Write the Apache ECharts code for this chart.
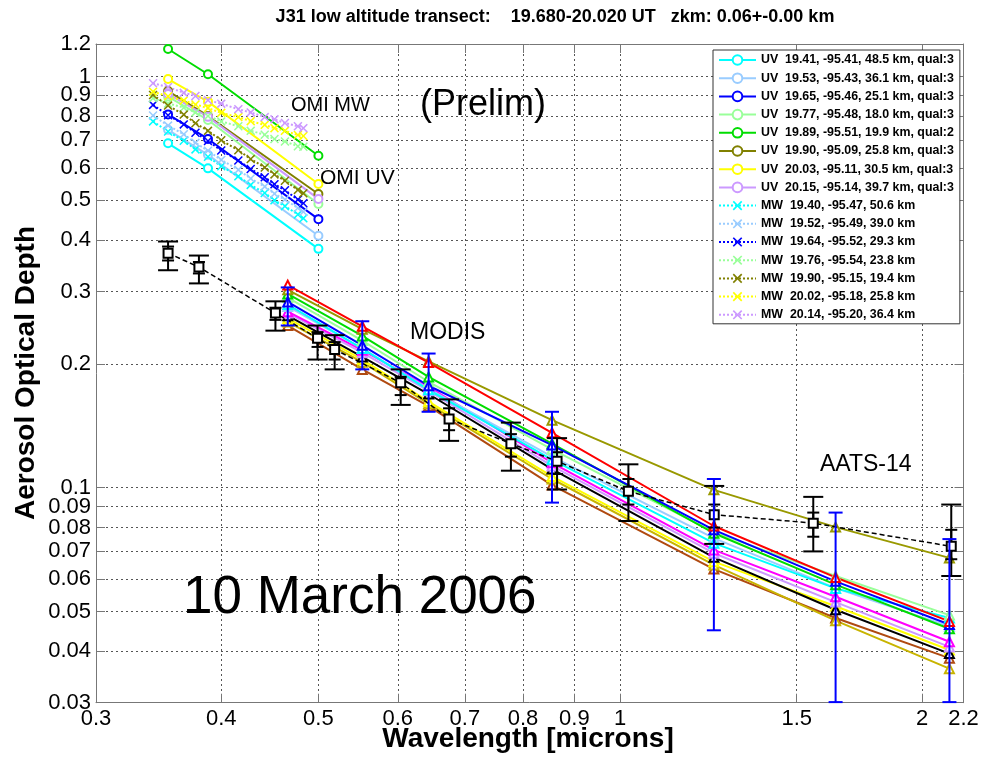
<!DOCTYPE html>
<html><head><meta charset="utf-8">
<script src="https://cdn.jsdelivr.net/npm/echarts@6/dist/echarts.min.js"></script>
<style>html,body{margin:0;padding:0;background:#fff}#c{width:981px;height:758px}</style>
</head><body><div id="c"></div>
<script>
const FONT = "'Liberation Sans', Arial, Helvetica, sans-serif";

// ---------- axis ticks ----------
const xTicks = [0.3, 0.4, 0.5, 0.6, 0.7, 0.8, 0.9, 1, 1.5, 2, 2.2];
const yTicks = [0.03, 0.04, 0.05, 0.06, 0.07, 0.08, 0.09, 0.1, 0.2, 0.3, 0.4, 0.5, 0.6, 0.7, 0.8, 0.9, 1, 1.2];

// ---------- OMI UV (solid, circles) ----------
const uvWavelengths = [0.354, 0.388, 0.5];
const uvNames = [
  'UV  19.41, -95.41, 48.5 km, qual:3',
  'UV  19.53, -95.43, 36.1 km, qual:3',
  'UV  19.65, -95.46, 25.1 km, qual:3',
  'UV  19.77, -95.48, 18.0 km, qual:3',
  'UV  19.89, -95.51, 19.9 km, qual:2',
  'UV  19.90, -95.09, 25.8 km, qual:3',
  'UV  20.03, -95.11, 30.5 km, qual:3',
  'UV  20.15, -95.14, 39.7 km, qual:3'
];
const uv1941 = [0.688, 0.598, 0.381];
const uv1953 = [0.742, 0.645, 0.410];
const uv1965 = [0.809, 0.705, 0.450];
const uv1977 = [0.894, 0.784, 0.490];
const uv1989 = [1.167, 1.013, 0.642];
const uv1990 = [0.922, 0.802, 0.518];
const uv2003 = [0.986, 0.869, 0.548];
const uv2015 = [0.907, 0.798, 0.504];

// ---------- OMI MW (dotted, x) ----------
const mwWavelengths = [0.342, 0.354, 0.367, 0.377, 0.388, 0.400, 0.416, 0.428, 0.442, 0.452, 0.463, 0.477, 0.483];
const mwNames = [
  'MW  19.40, -95.47, 50.6 km',
  'MW  19.52, -95.49, 39.0 km',
  'MW  19.64, -95.52, 29.3 km',
  'MW  19.76, -95.54, 23.8 km',
  'MW  19.90, -95.15, 19.4 km',
  'MW  20.02, -95.18, 25.8 km',
  'MW  20.14, -95.20, 36.4 km'
];
const mw1940 = [0.778, 0.735, 0.698, 0.665, 0.638, 0.605, 0.572, 0.545, 0.521, 0.500, 0.484, 0.462, 0.452];
const mw1952 = [0.804, 0.760, 0.724, 0.690, 0.660, 0.627, 0.593, 0.565, 0.540, 0.519, 0.502, 0.479, 0.469];
const mw1964 = [0.853, 0.805, 0.765, 0.730, 0.697, 0.661, 0.625, 0.596, 0.569, 0.547, 0.529, 0.502, 0.492];
const mw1976 = [0.886, 0.860, 0.840, 0.818, 0.802, 0.778, 0.757, 0.738, 0.722, 0.705, 0.695, 0.677, 0.675];
const mw1990 = [0.902, 0.850, 0.808, 0.770, 0.738, 0.700, 0.662, 0.630, 0.601, 0.578, 0.558, 0.530, 0.520];
const mw2002 = [0.919, 0.895, 0.875, 0.855, 0.838, 0.816, 0.797, 0.779, 0.763, 0.749, 0.738, 0.721, 0.717];
const mw2014 = [0.963, 0.943, 0.913, 0.897, 0.876, 0.859, 0.833, 0.818, 0.797, 0.787, 0.771, 0.757, 0.749];

// ---------- MODIS (solid, triangles) ----------
const modisWavelengths = [0.466, 0.553, 0.644, 0.855, 1.24, 1.64, 2.13];
const modisRed        = [0.311, 0.247, 0.2015, 0.136, 0.0807, 0.0605, 0.0473];
const modisOlive      = [0.303, 0.243, 0.203, 0.146, 0.0988, 0.0802, 0.0675];
const modisGreen      = [0.296, 0.234, 0.186, 0.128, 0.0775, 0.0581, 0.0454];
const modisLightGreen = [0.290, 0.228, 0.181, 0.124, 0.0780, 0.0610, 0.0490];
const modisBlue       = [0.283, 0.222, 0.177, 0.127, 0.0790, 0.0592, 0.0465];
const modisCyan       = [0.279, 0.218, 0.173, 0.117, 0.0733, 0.0569, 0.0482];
const modisLightBlue  = [0.276, 0.218, 0.174, 0.119, 0.0754, 0.0570, 0.0460];
const modisMagenta    = [0.268, 0.216, 0.176, 0.115, 0.0706, 0.0543, 0.0422];
const modisLightPurple= [0.266, 0.213, 0.172, 0.113, 0.0693, 0.0527, 0.0410];
const modisBlack      = [0.262, 0.208, 0.169, 0.111, 0.0677, 0.0505, 0.0395];
const modisYellow     = [0.258, 0.205, 0.162, 0.1065, 0.0661, 0.0515, 0.0403];
const modisDarkYellow = [0.253, 0.202, 0.160, 0.105, 0.0649, 0.0475, 0.0363];
const modisBrown      = [0.248, 0.194, 0.158, 0.1015, 0.0634, 0.0482, 0.0385];
const modisErrLo = [0.248, 0.194, 0.153, 0.092, 0.045, 0.0301, 0.0301];
const modisErrHi = [0.307, 0.254, 0.212, 0.153, 0.105, 0.087, 0.075];

// ---------- AATS-14 (dashed, squares, two error bars) ----------
const aatsWavelengths = [0.354, 0.380, 0.453, 0.499, 0.519, 0.604, 0.675, 0.778, 0.865, 1.019, 1.241, 1.558, 2.139];
const aatsAod     = [0.372, 0.344, 0.266, 0.231, 0.217, 0.180, 0.147, 0.128, 0.116, 0.098, 0.086, 0.082, 0.072];
const aatsOuterHi = [0.397, 0.367, 0.284, 0.248, 0.235, 0.194, 0.164, 0.144, 0.132, 0.114, 0.101, 0.095, 0.091];
const aatsOuterLo = [0.338, 0.314, 0.241, 0.205, 0.194, 0.159, 0.130, 0.110, 0.099, 0.083, 0.073, 0.070, 0.061];
const aatsInnerHi = [0.386, 0.354, 0.274, 0.239, 0.226, 0.186, 0.156, 0.135, 0.122, 0.105, 0.091, 0.087, 0.079];
const aatsInnerLo = [0.357, 0.332, 0.256, 0.220, 0.205, 0.168, 0.138, 0.119, 0.108, 0.091, 0.080, 0.076, 0.067];

// ---------- build ----------
const omiColors = ['#00ffff', '#99ccff', '#0000ff', '#99ff99', '#00dd00', '#808000', '#ffff00', '#cc99ff'];
const mwColors  = ['#00ffff', '#99ccff', '#0000ff', '#99ff99', '#808000', '#ffff00', '#cc99ff'];
const uvSets = [uv1941, uv1953, uv1965, uv1977, uv1989, uv1990, uv2003, uv2015];
const mwSets = [mw1940, mw1952, mw1964, mw1976, mw1990, mw2002, mw2014];
const modisSets = [
  [modisBrown, '#b04a10'], [modisDarkYellow, '#c8b400'], [modisYellow, '#ffff00'], [modisBlack, '#000000'],
  [modisLightPurple, '#cc99ff'], [modisMagenta, '#ff00ff'], [modisLightBlue, '#99ccff'], [modisCyan, '#00ffff'],
  [modisLightGreen, '#99ff99'], [modisGreen, '#00dd00'], [modisBlue, '#0000ff'], [modisOlive, '#999900'], [modisRed, '#ff0000']
];
const X_SYMBOL = 'path://M0,1.2L1.2,0L5,3.8L8.8,0L10,1.2L6.2,5L10,8.8L8.8,10L5,6.2L1.2,10L0,8.8L3.8,5Z';

function pairs(xs, ys) { return xs.map((x, i) => [x, ys[i]]); }
function triples(xs, lo, hi) { return xs.map((x, i) => [x, lo[i], hi[i]]); }
function errRender(capW, color, lw) {
  return function (params, api) {
    const x = api.value(0), lo = api.value(1), hi = api.value(2);
    const p1 = api.coord([x, hi]), p2 = api.coord([x, lo]);
    const h = capW / 2;
    const st = { stroke: color, lineWidth: lw };
    return { type: 'group', children: [
      { type: 'line', shape: { x1: p1[0], y1: p1[1], x2: p2[0], y2: p2[1] }, style: st },
      { type: 'line', shape: { x1: p1[0] - h, y1: p1[1], x2: p1[0] + h, y2: p1[1] }, style: st },
      { type: 'line', shape: { x1: p2[0] - h, y1: p2[1], x2: p2[0] + h, y2: p2[1] }, style: st }
    ] };
  };
}

const series = [];
modisSets.forEach(([vals, c], i) => {
  series.push({ name: 'modis' + i, type: 'line', data: pairs(modisWavelengths, vals),
    symbol: 'emptyTriangle', symbolSize: 9, showSymbol: true,
    lineStyle: { color: c, width: 2 }, itemStyle: { color: c, borderWidth: 1.5 }, z: 2 });
});
series.push({ name: 'aatsLine', type: 'line', data: pairs(aatsWavelengths, aatsAod),
  symbol: 'emptyRect', symbolSize: 9, lineStyle: { color: '#000', width: 1.5, type: [5, 3] },
  itemStyle: { color: '#000', borderWidth: 1.5 }, z: 4 });
series.push({ name: 'aatsOuter', type: 'custom', renderItem: errRender(20, '#000', 2), encode: { x: 0, y: [1, 2] },
  data: triples(aatsWavelengths, aatsOuterLo, aatsOuterHi), z: 4 });
series.push({ name: 'aatsInner', type: 'custom', renderItem: errRender(12, '#000', 2), encode: { x: 0, y: [1, 2] },
  data: triples(aatsWavelengths, aatsInnerLo, aatsInnerHi), z: 4 });
series.push({ name: 'modisErr', type: 'custom', renderItem: errRender(14, '#0000ff', 2), encode: { x: 0, y: [1, 2] },
  data: triples(modisWavelengths, modisErrLo, modisErrHi), z: 5 });
uvSets.forEach((vals, i) => {
  series.push({ name: uvNames[i], type: 'line', data: pairs(uvWavelengths, vals),
    symbol: 'emptyCircle', symbolSize: 8, lineStyle: { color: omiColors[i], width: 2 },
    itemStyle: { color: omiColors[i], borderWidth: 1.5 }, z: 3 });
});
mwSets.forEach((vals, i) => {
  series.push({ name: mwNames[i], type: 'line', data: pairs(mwWavelengths, vals),
    symbol: X_SYMBOL, symbolSize: 9, lineStyle: { color: mwColors[i], width: 2, type: [2, 2] },
    itemStyle: { color: mwColors[i] }, z: 3 });
});

const fmt = v => String(+(+v).toPrecision(3));
const axisCommon = {
  type: 'log', logBase: 10,
  axisLine: { show: true, lineStyle: { color: '#777', width: 1 } },
  axisTick: { show: true, inside: true, length: 9, lineStyle: { color: '#777' } },
  minorTick: { show: false }
};

const option = {
  animation: false,
  backgroundColor: '#fff',
  grid: { left: 96, top: 44, width: 867.5, height: 658.7, outerBoundsMode: 'none', containLabel: false },
  xAxis: [
    Object.assign({}, axisCommon, { position: 'bottom', min: 0.3, max: 2.2,
      axisTick: Object.assign({}, axisCommon.axisTick, { customValues: xTicks }),
      axisLabel: { customValues: xTicks, formatter: fmt, color: '#000', fontSize: 22, fontFamily: FONT, margin: 5, showMinLabel: true, showMaxLabel: true },
      splitLine: { show: true, customValues: xTicks, lineStyle: { color: '#555', type: [2, 3], width: 1 } } }),
    Object.assign({}, axisCommon, { position: 'top', min: 0.3, max: 2.2,
      axisTick: Object.assign({}, axisCommon.axisTick, { customValues: xTicks }),
      axisLabel: { show: false }, splitLine: { show: false } })
  ],
  yAxis: [
    Object.assign({}, axisCommon, { position: 'left', min: 0.03, max: 1.2,
      axisTick: Object.assign({}, axisCommon.axisTick, { customValues: yTicks }),
      axisLabel: { customValues: yTicks, formatter: fmt, color: '#000', fontSize: 22, fontFamily: FONT, margin: 5, showMinLabel: true, showMaxLabel: true },
      splitLine: { show: true, customValues: yTicks, lineStyle: { color: '#555', type: [2, 3], width: 1 } } }),
    Object.assign({}, axisCommon, { position: 'right', min: 0.03, max: 1.2,
      axisTick: Object.assign({}, axisCommon.axisTick, { customValues: yTicks }),
      axisLabel: { show: false }, splitLine: { show: false } })
  ],
  legend: {
    data: uvNames.concat(mwNames),
    orient: 'vertical', left: 713, top: 50,
    padding: [4, 6, 3, 5],
    itemWidth: 37, itemHeight: 12, itemGap: 6.2,
    backgroundColor: '#fff', borderColor: '#333', borderWidth: 1, borderRadius: 0,
    selectedMode: false,
    textStyle: { fontFamily: FONT, fontWeight: 'bold', fontSize: 12.4, color: '#000', lineHeight: 12 }
  },
  graphic: [
    { type: 'text', x: 555, y: 17, z: 100, style: { text: 'J31 low altitude transect:    19.680-20.020 UT   zkm: 0.06+-0.00 km', font: 'bold 18px ' + FONT, fill: '#000', textAlign: 'center', textVerticalAlign: 'middle' } },
    { type: 'text', x: 26, y: 373, rotation: Math.PI / 2, z: 100, style: { text: 'Aerosol Optical Depth', font: 'bold 28px ' + FONT, fill: '#000', textAlign: 'center', textVerticalAlign: 'middle' } },
    { type: 'text', x: 528, y: 739, z: 100, style: { text: 'Wavelength [microns]', font: 'bold 28px ' + FONT, fill: '#000', textAlign: 'center', textVerticalAlign: 'middle' } },
    { type: 'text', x: 291, y: 105, z: 100, style: { text: 'OMI MW', font: '20px ' + FONT, fill: '#000', textVerticalAlign: 'middle' } },
    { type: 'text', x: 420, y: 105, z: 100, style: { text: '(Prelim)', font: '36px ' + FONT, fill: '#000', textVerticalAlign: 'middle' } },
    { type: 'text', x: 320, y: 178, z: 100, style: { text: 'OMI UV', font: '21px ' + FONT, fill: '#000', textVerticalAlign: 'middle' } },
    { type: 'text', x: 410, y: 333, z: 100, style: { text: 'MODIS', font: '23px ' + FONT, fill: '#000', textVerticalAlign: 'middle' } },
    { type: 'text', x: 820, y: 465, z: 100, style: { text: 'AATS-14', font: '23px ' + FONT, fill: '#000', textVerticalAlign: 'middle' } },
    { type: 'text', x: 183, y: 598, z: 100, style: { text: '10 March 2006', font: '53px ' + FONT, fill: '#000', textVerticalAlign: 'middle' } }
  ],
  series: series
};

const chart = echarts.init(document.getElementById('c'), null, { renderer: 'canvas' });
chart.setOption(option);
</script></body></html>
